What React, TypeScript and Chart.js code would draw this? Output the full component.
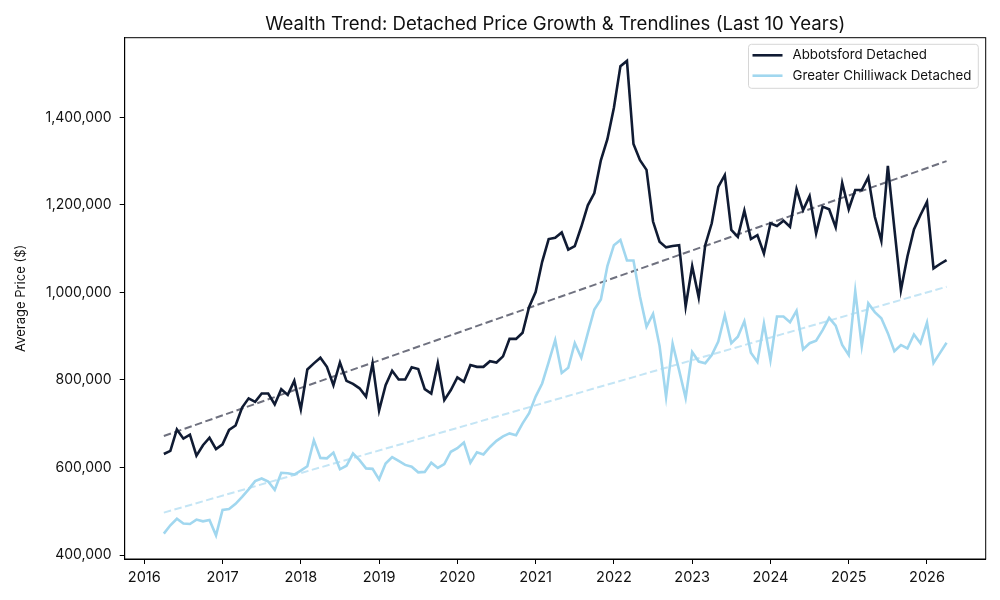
import React, { useEffect, useRef } from "react";
import { Chart, registerables } from "chart.js";

Chart.register(...registerables);

// ---------- data ----------
const START_YEAR = 2016;
const START_MONTH = 4; // April 2016, monthly observations

const abbotsford = [
  631000, 638000, 687000, 666000, 675000, 627000, 651000, 668000, 642000,
  653000, 686000, 696000, 737000, 758000, 750000, 769000, 769000, 744000, 779000, 766000, 798000, 733000, 824000, 838000,
  851000, 830000, 788000, 840000, 798000, 791000, 781000, 762000, 838000, 730000, 788000, 821000,
  801000, 801000, 829000, 825000, 779000, 769000, 838000, 754000, 777000, 806000, 796000, 834000,
  830000, 830000, 843000, 840000, 854000, 894000, 894000, 908000, 967000, 1001000, 1070000, 1122000,
  1125000, 1137000, 1098000, 1106000, 1150000, 1199000, 1227000, 1302000, 1350000, 1422000, 1517000, 1529000,
  1339000, 1302000, 1280000, 1162000, 1116000, 1103000, 1106000, 1108000, 968000, 1060000, 989000, 1108000,
  1158000, 1241000, 1268000, 1143000, 1127000, 1187000, 1122000, 1131000, 1089000, 1158000, 1152000, 1164000,
  1150000, 1236000, 1188000, 1220000, 1135000, 1196000, 1190000, 1149000, 1250000, 1190000, 1234000, 1234000,
  1263000, 1173000, 1118000, 1289000, 1146000, 1005000, 1082000, 1144000, 1177000, 1207000, 1055000, 1065000,
  1074000,
];

const chilliwack = [
  449000, 468000, 483000, 472000, 471000, 481000, 477000, 480000, 445000,
  503000, 505000, 517000, 533000, 550000, 569000, 575000, 568000, 549000, 588000, 587000, 584000, 593000, 603000, 662000,
  622000, 621000, 634000, 596000, 604000, 632000, 617000, 598000, 597000, 573000, 609000, 624000,
  615000, 606000, 602000, 589000, 590000, 611000, 599000, 608000, 636000, 644000, 657000, 611000,
  635000, 630000, 647000, 661000, 671000, 678000, 674000, 701000, 724000, 762000, 792000, 841000,
  891000, 816000, 828000, 884000, 851000, 907000, 961000, 984000, 1060000, 1108000, 1120000, 1073000,
  1073000, 990000, 922000, 951000, 878000, 761000, 883000, 822000, 759000, 864000, 842000, 838000,
  857000, 888000, 948000, 884000, 899000, 934000, 862000, 841000, 929000, 845000, 945000, 945000,
  932000, 958000, 870000, 884000, 890000, 914000, 942000, 924000, 880000, 857000, 1003000, 878000,
  975000, 955000, 941000, 907000, 866000, 880000, 872000, 904000, 884000, 931000, 839000, 862000,
  885000,
];

// trendline values at the first and last month
const abbotsfordTrend = [672000, 1300000];
const chilliwackTrend = [497000, 1013000];

const yearTicks = [2016, 2017, 2018, 2019, 2020, 2021, 2022, 2023, 2024, 2025, 2026];
const priceTicks = [400000, 600000, 800000, 1000000, 1200000, 1400000];

const seriesLabels = ["Abbotsford Detached", "Greater Chilliwack Detached"];
const TITLE = "Wealth Trend: Detached Price Growth & Trendlines (Last 10 Years)";
const Y_TITLE = "Average Price ($)";

// ---------- styling ----------
const FONT = "Inter, Lato, 'DejaVu Sans', sans-serif";
const DARK = "#101b33";
const LIGHT = "#a1d7ef";
const DARK_TREND = "#6f717f";
const LIGHT_TREND = "#c4e5f5";

const monthPos = abbotsford.map((_, i) => START_YEAR + (START_MONTH - 1 + i) / 12);
const firstX = monthPos[0];
const lastX = monthPos[monthPos.length - 1];

const framePlugin = {
  id: "frameTitleLegend",
  afterDraw(chart: any) {
    const { ctx, chartArea } = chart;
    const { left, right, top, bottom } = chartArea;
    ctx.save();
    // frame
    ctx.strokeStyle = "#000";
    ctx.lineWidth = 1;
    ctx.strokeRect(left, top, right - left, bottom - top);

    // title
    ctx.fillStyle = "#111";
    ctx.font = `18.6px ${FONT}`;
    ctx.textAlign = "center";
    ctx.textBaseline = "alphabetic";
    ctx.fillText(TITLE, (left + right) / 2, 29.5);

    // y title
    ctx.save();
    ctx.translate(25, (top + bottom) / 2);
    ctx.rotate(-Math.PI / 2);
    ctx.font = `13px ${FONT}`;
    ctx.textAlign = "center";
    ctx.fillText(Y_TITLE, 0, 0);
    ctx.restore();

    // legend
    ctx.font = `13.3px ${FONT}`;
    const tw = Math.max(...seriesLabels.map((s) => ctx.measureText(s).width));
    const boxW = 4 + 30 + 10 + tw + 7;
    const boxR = right - 7.4;
    const boxL = boxR - boxW;
    const boxT = top + 6.6;
    const boxH = 44;
    const r = 3;
    ctx.beginPath();
    ctx.moveTo(boxL + r, boxT);
    ctx.lineTo(boxR - r, boxT);
    ctx.quadraticCurveTo(boxR, boxT, boxR, boxT + r);
    ctx.lineTo(boxR, boxT + boxH - r);
    ctx.quadraticCurveTo(boxR, boxT + boxH, boxR - r, boxT + boxH);
    ctx.lineTo(boxL + r, boxT + boxH);
    ctx.quadraticCurveTo(boxL, boxT + boxH, boxL, boxT + boxH - r);
    ctx.lineTo(boxL, boxT + r);
    ctx.quadraticCurveTo(boxL, boxT, boxL + r, boxT);
    ctx.closePath();
    ctx.fillStyle = "rgba(255,255,255,0.85)";
    ctx.fill();
    ctx.strokeStyle = "#d6d6d6";
    ctx.lineWidth = 1;
    ctx.stroke();

    const colors = [DARK, LIGHT];
    seriesLabels.forEach((lab, i) => {
      const cy = boxT + 11 + i * 20.4;
      ctx.strokeStyle = colors[i];
      ctx.lineWidth = 2.6;
      ctx.setLineDash([]);
      ctx.beginPath();
      ctx.moveTo(boxL + 4, cy);
      ctx.lineTo(boxL + 34, cy);
      ctx.stroke();
      ctx.fillStyle = "#111";
      ctx.textAlign = "left";
      ctx.textBaseline = "middle";
      ctx.fillText(lab, boxL + 44, cy);
    });
    ctx.restore();
  },
};

export default function App() {
  const ref = useRef<HTMLCanvasElement | null>(null);

  useEffect(() => {
    document.body.style.margin = "0";
    if (!ref.current) return;
    const chart = new Chart(ref.current, {
      type: "line",
      data: {
        datasets: [
          {
            label: seriesLabels[0],
            data: abbotsford.map((v, i) => ({ x: monthPos[i], y: v })),
            borderColor: DARK,
            borderWidth: 2.6,
            pointRadius: 0,
            tension: 0,
            order: 1,
          },
          {
            label: seriesLabels[1],
            data: chilliwack.map((v, i) => ({ x: monthPos[i], y: v })),
            borderColor: LIGHT,
            borderWidth: 2.6,
            pointRadius: 0,
            tension: 0,
            order: 2,
          },
          {
            label: "Abbotsford trend",
            data: [
              { x: firstX, y: abbotsfordTrend[0] },
              { x: lastX, y: abbotsfordTrend[1] },
            ],
            borderColor: DARK_TREND,
            borderWidth: 2,
            borderDash: [7.5, 3.5],
            pointRadius: 0,
            order: 3,
          },
          {
            label: "Chilliwack trend",
            data: [
              { x: firstX, y: chilliwackTrend[0] },
              { x: lastX, y: chilliwackTrend[1] },
            ],
            borderColor: LIGHT_TREND,
            borderWidth: 2,
            borderDash: [7.5, 3.5],
            pointRadius: 0,
            order: 4,
          },
        ],
      },
      options: {
        animation: false,
        responsive: false,
        maintainAspectRatio: false,
        layout: { padding: { top: 37.7, right: 14.3, left: 0, bottom: 0 } },
        plugins: {
          legend: { display: false },
          title: { display: false },
          tooltip: { enabled: false },
        },
        scales: {
          x: {
            type: "linear",
            min: 2015.75,
            max: 2026.75,
            afterBuildTicks: (scale: any) => {
              scale.ticks = yearTicks.map((v) => ({ value: v }));
            },
            afterFit: (scale: any) => {
              scale.height = 41;
            },
            ticks: {
              callback: (v: any) => String(v),
              font: { family: FONT, size: 14.5 },
              color: "#111",
              padding: 5,
              maxRotation: 0,
              autoSkip: false,
            },
            grid: {
              display: true,
              drawOnChartArea: false,
              drawTicks: true,
              tickLength: 5,
              color: "#000",
            },
            border: { display: true, color: "#000", width: 1 },
          },
          y: {
            type: "linear",
            min: 391000,
            max: 1582000,
            afterBuildTicks: (scale: any) => {
              scale.ticks = priceTicks.map((v) => ({ value: v }));
            },
            afterFit: (scale: any) => {
              scale.width = 124.7;
            },
            ticks: {
              callback: (v: any) => Number(v).toLocaleString("en-US"),
              font: { family: FONT, size: 14 },
              color: "#111",
              padding: 8,
              autoSkip: false,
            },
            grid: {
              display: true,
              drawOnChartArea: false,
              drawTicks: true,
              tickLength: 5,
              color: "#000",
            },
            border: { display: true, color: "#000", width: 1 },
          },
        },
      },
      plugins: [framePlugin],
    });
    return () => chart.destroy();
  }, []);

  return (
    <div style={{ width: 1000, height: 600, background: "#fff" }}>
      <canvas ref={ref} width={1000} height={600} style={{ display: "block", width: 1000, height: 600 }} />
    </div>
  );
}
